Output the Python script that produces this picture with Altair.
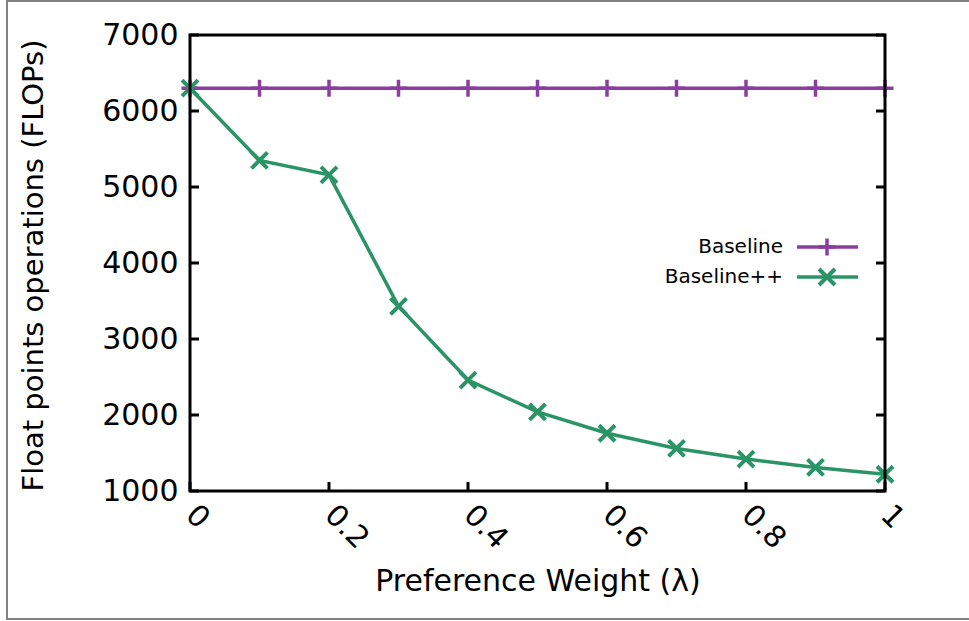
import altair as alt
import pandas as pd

# ---- data ----
lam = [0.0, 0.1, 0.2, 0.3, 0.4, 0.5, 0.6, 0.7, 0.8, 0.9, 1.0]
baseline = [6300, 6300, 6300, 6300, 6300, 6300, 6300, 6300, 6300, 6300, 6300]
baseline_pp = [6300, 5350, 5160, 3430, 2460, 2040, 1760, 1560, 1420, 1310, 1220]
series_names = ["Baseline", "Baseline++"]
series_colors = ["#8A3FA0", "#2A9466"]
y_ticks = [1000, 2000, 3000, 4000, 5000, 6000, 7000]
x_ticks = [0.0, 0.2, 0.4, 0.6, 0.8, 1.0]

W, H = 695, 456
FONT = "DejaVu Sans"

df = pd.DataFrame(
    {
        "lam": lam * 2,
        "flops": baseline + baseline_pp,
        "series": [series_names[0]] * len(lam) + [series_names[1]] * len(lam),
    }
)
ytick_df = pd.DataFrame({"v": y_ticks})
xtick_df = pd.DataFrame({"v": x_ticks})

x_scale = alt.Scale(domain=[0, 1], nice=False, zero=False)
y_scale = alt.Scale(domain=[1000, 7000], nice=False, zero=False)
color_scale = alt.Scale(domain=series_names, range=series_colors)

PLUS = "M0,-1V1M-1,0H1"
CROSS = "M-1,-1L1,1M-1,1L1,-1"

x_enc = alt.X(
    "lam:Q",
    scale=x_scale,
    axis=alt.Axis(
        values=x_ticks,
        format="~g",
        title="Preference Weight (λ)",
        domain=False,
        ticks=False,
        grid=False,
        labelAngle=45,
        labelAlign="left",
        labelBaseline="middle",
        labelPadding=19,
        labelFontSize=30,
        labelFont=FONT,
        labelColor="black",
        titleFontSize=30,
        titleFont=FONT,
        titleFontWeight="normal",
        titleColor="black",
        titleBaseline="alphabetic",
        titleY=99,
    ),
)
y_enc = alt.Y(
    "flops:Q",
    scale=y_scale,
    axis=alt.Axis(
        values=y_ticks,
        format="d",
        title="Float points operations (FLOPs)",
        domain=False,
        ticks=False,
        grid=False,
        labelPadding=12,
        labelFontSize=30,
        labelFont=FONT,
        labelColor="black",
        titleFontSize=29,
        titleFont=FONT,
        titleFontWeight="normal",
        titleColor="black",
        titleAngle=-90,
        titleAlign="center",
        titleBaseline="middle",
        titleX=-157,
        titleY=H / 2 + 2,
    ),
)

base = alt.Chart(df)

lines = base.mark_line(strokeWidth=3.5, clip=False).encode(
    x=x_enc,
    y=y_enc,
    color=alt.Color("series:N", scale=color_scale, legend=None),
    detail="series:N",
)

pts_base = (
    base.transform_filter(alt.datum.series == series_names[0])
    .mark_point(shape=PLUS, size=289, strokeWidth=3.5, filled=False, opacity=1, clip=False)
    .encode(x="lam:Q", y="flops:Q", color=alt.Color("series:N", scale=color_scale, legend=None))
)
pts_pp = (
    base.transform_filter(alt.datum.series == series_names[1])
    .mark_point(shape=CROSS, size=256, strokeWidth=4, filled=False, opacity=1, clip=False)
    .encode(x="lam:Q", y="flops:Q", color=alt.Color("series:N", scale=color_scale, legend=None))
)

# inward ticks
yt_left = alt.Chart(ytick_df).mark_rule(color="black", strokeWidth=3).encode(
    y=alt.Y("v:Q", scale=y_scale), x=alt.value(0), x2=alt.value(9)
)
yt_right = alt.Chart(ytick_df).mark_rule(color="black", strokeWidth=3).encode(
    y=alt.Y("v:Q", scale=y_scale), x=alt.value(W - 9), x2=alt.value(W)
)
xt_bottom = alt.Chart(xtick_df).mark_rule(color="black", strokeWidth=3).encode(
    x=alt.X("v:Q", scale=x_scale), y=alt.value(H - 9), y2=alt.value(H)
)

# manual legend (label to the left of the sample)
leg_rows = pd.DataFrame({"series": series_names, "row": [0, 1]})
leg_y = {0: 212, 1: 242}
legend_layers = []
for i, name in enumerate(series_names):
    d = alt.Chart(leg_rows).transform_filter(alt.datum.series == name)
    yy = leg_y[i]
    legend_layers.append(
        d.mark_text(align="right", baseline="middle", fontSize=20, font=FONT, color="black").encode(
            text="series:N", x=alt.value(593), y=alt.value(yy)
        )
    )
    legend_layers.append(
        d.mark_rule(strokeWidth=3.5, color=series_colors[i]).encode(
            x=alt.value(607), x2=alt.value(668), y=alt.value(yy)
        )
    )
    legend_layers.append(
        d.mark_point(
            shape=PLUS if i == 0 else CROSS,
            size=289 if i == 0 else 256,
            strokeWidth=3.5 if i == 0 else 4,
            filled=False,
            opacity=1,
            color=series_colors[i],
        ).encode(x=alt.value(637), y=alt.value(yy))
    )

# outer grey frame of the figure
frame = alt.Chart(leg_rows.head(1)).mark_rect(
    fill=None, stroke="#808080", strokeWidth=2
).encode(x=alt.value(-183), x2=alt.value(W + 120), y=alt.value(-34), y2=alt.value(584))

# black plot border
border = alt.Chart(leg_rows.head(1)).mark_rect(
    fill=None, stroke="black", strokeWidth=3
).encode(x=alt.value(0), x2=alt.value(W), y=alt.value(0), y2=alt.value(H))

chart = (
    alt.layer(
        frame, lines, pts_base, pts_pp, yt_left, yt_right, xt_bottom, border, *legend_layers
    )
    .properties(
        width=W,
        height=H,
        autosize=alt.AutoSizeParams(type="none"),
        padding={"left": 190, "top": 35, "right": 84, "bottom": 130},
        background="white",
    )
    .configure_view(stroke=None)
)

chart.save("out.html", embed_options={"renderer": "svg", "actions": False})
